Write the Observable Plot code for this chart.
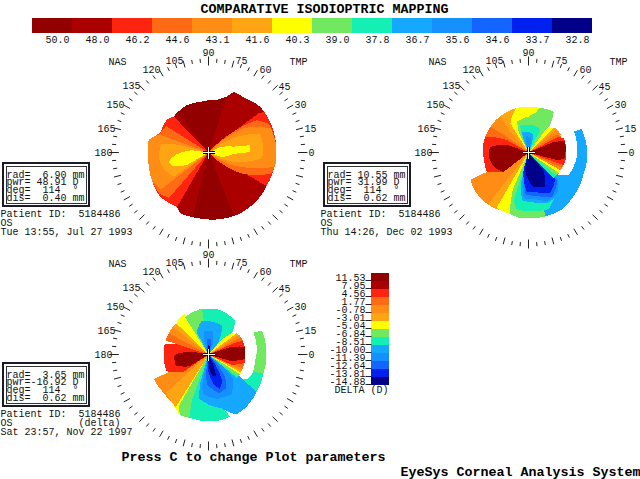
<!DOCTYPE html>
<html><head><meta charset="utf-8">
<script src="https://cdn.jsdelivr.net/npm/d3@7"></script>
<script src="https://cdn.jsdelivr.net/npm/@observablehq/plot@0.6"></script>
<style>html,body{margin:0;padding:0;background:#fff}svg{display:block}svg text{white-space:pre}</style>
</head><body><div id="chart"></div>
<script>
const powerLabels = ["50.0","48.0","46.2","44.6","43.1","41.6","40.3","39.0","37.8","36.7","35.6","34.6","33.7","32.8"];
const deltaLabels = ["11.53","7.95","4.56","1.77","-0.78","-3.01","-5.04","-6.84","-8.51","-10.00","-11.39","-12.64","-13.81","-14.88"];
const palette = ["#920000","#aa0000","#ff2410","#ff6a14","#ff8c14","#ffa514","#ffff00","#70e860","#14f0b4","#14a8ff","#1490ff","#1464ff","#0020f0","#000088"];
const angleLabels = [0,15,30,45,60,75,90,105,120,135,150,165,180];

// Each region: [band index, then degree, radius pairs], painted in order.
const mapA = [
 [1, 67.6,65.6, 72,58.6, 81,53, 99,51.3, 114.6,52, 134.5,50, 142,52.7, 158.5,52, 164,57, 168,61, 190,61, 206,63, 222.5,65.6, 239.8,63, 245,67, 262.8,66.5, 277,67.5, 297.4,68.7, 319.4,68, 338.5,66.3, 350.6,67.6, 364.8,68, 382,68, 401.5,69, 414.6,66],
 [0, 0,0, 72,58, 81,53, 99,51, 114,52, 128,50],
 [0, 0,0, 256,66, 263,66.5, 277,67.5, 292,68],
 [2, 0,0, 134,50, 142,53, 158,52, 164,57, 168,61, 190,61, 206,63, 222,65.6, 240,63],
 [3, 0,0, 148,50, 158,52, 164,57, 168,61, 190,61, 206,63, 220,64, 229,60],
 [4, 0,0, 160,52, 164,57, 168,61, 190,61, 206,63, 218,60],
 [5, 0,0, 165,30, 170,48, 185,50, 200,48, 215,42],
 [6, 0,0, 172,16, 184,33, 193,41, 201,38, 210,25],
 [2, 0,0, 40,30, 38,64, 36,69, 5,68, -30,67, -30,20],
 [3, 0,0, 45,12, 34,58, 25,67, 5,68, -18,67, -33,38, -42,12],
 [4, 0,0, 42,12, 35,42, 21,67, 5,68, -12,68, -24,35, -35,12],
 [5, 0,0, 35,15, 29,32, 20,55, 6,55, -6,54, -20,27, -28,12],
 [6, 0,0, 25,12, 13,26, 10,42, 1,42, -3,25, -20,12]
];
const mapB = [
 [9, 0,0, 258,50, 270,50, 285,66, 300,66, 315,63, 323,38],
 [9, 323,37, 315,63, 339,59, 352,59, 384,58, 384.7,50, 355,48.5, 330,46],
 [4, 0,0, 205,64, 215,66, 231,66, 236,64],
 [5, 0,0, 232,66, 240,65, 246,64],
 [6, 0,0, 240,64, 248,64, 254,64],
 [7, 0,0, 247,40, 253,64, 262,66, 275,66, 285,66, 285,52],
 [8, 0,0, 253,50, 258,58, 275,59, 290,60, 300,52, 312,40],
 [9, 0,0, 256,30, 262,48, 275,50, 290,54, 302,52, 318,42, 322,36],
 [10, 0,0, 258,25, 264,46, 278,47, 292,52, 305,50, 318,40],
 [11, 0,0, 258,20, 266,42, 280,44, 298,50, 316,40],
 [12, 0,0, 254,18, 267,39, 280,40, 298,46, 316,37],
 [13, 0,0, 259,18, 278,35, 296,38, 310,23],
 [4, 0,0, 122,34, 106,46, 123,46, 146,46, 165,46],
 [5, 0,0, 122,34, 106,46, 128,46, 131,30],
 [3, 0,0, 144,30, 146,46, 165,46, 166,30],
 [2, 0,0, 150,25, 160,46, 170,46, 190,45, 205,46, 218,30],
 [0, 0,0, 160,23, 172,39, 186,40, 200,38, 218,32],
 [6, 0,0, 122,34, 106,46, 90,46, 75,46, 58,48, 52,35],
 [7, 0,0, 116,22, 110,33, 90,36, 80,40, 76,46, 58,48, 52,35],
 [8, 0,0, 112,18, 107,28, 85,28, 70,27, 62,25],
 [9, 0,0, 110,15, 108,21, 95,21, 75,19, 70,8],
 [10, 0,0, 105,10, 100,17, 80,15, 75,5],
 [8, 0,0, -46,36, -38,36],
 [7, 0,0, -40,36, -33,37],
 [6, 0,0, -34,37, -28,36],
 [6, 0,0, 44,36, 53,30],
 [5, 0,0, 33,37, 44,36],
 [4, 0,0, 28,37, 40,36],
 [4, 0,0, -29,36, -25,37],
 [3, 0,0, 25,37, 33,33],
 [3, 0,0, -25,37, -20,37],
 [2, 0,0, -20,37, -10,38, 0,38, 22,38, 28,33],
 [0, 0,0, -15,30, -9,37, 0,37, 17,38, 23,27]
];
const mapC = [
 [7, 339,48, 341,58, 362,58, 384,58.5, 386,50, 363,48.4],
 [8, 321,38.5, 322,61, 341,58, 339,48, 329,46.6],
 [6, 0,0, 232,60, 240,64, 245,67],
 [7, 0,0, 240,60, 245,67, 254,66],
 [4, 0,0, 204,60, 220,59, 232,60],
 [5, 0,0, 222,57, 232,60, 238,62],
 [8, 0,0, 250,48, 253,66, 263,66.5, 277,67, 289,66, 285,52],
 [9, 0,0, 254,30, 258,45, 270,50, 283,55, 295,66, 304,65, 322,61, 325,38.5],
 [10, 0,0, 258,30, 262,40, 280,45, 300,46, 315,35, 320,20],
 [11, 0,0, 262,20, 268,30, 285,40, 298,38, 305,30, 312,14],
 [12, 0,0, 268,15, 280,30, 288,36, 297,30, 305,12],
 [13, 0,0, 270,10, 280,22, 290,23, 295,10],
 [2, 0,0, 160,30, 166,45, 185,45, 202,45, 215,30],
 [0, 0,0, 170,15, 178,30, 182,34, 198,35, 212,22],
 [3, 0,0, 152,45, 162,45],
 [4, 0,0, 142,45, 152,45],
 [5, 0,0, 134,45, 142,45],
 [6, 0,0, 120,47, 128,47, 136,45],
 [8, 0,0, 110,28, 103,46, 90,46, 75,46, 52,43, 41,31],
 [7, 0,0, 98,46, 112,45, 122,44],
 [9, 0,0, 118,25, 102,34, 85,33, 65,32, 50,14],
 [10, 0,0, 108,15, 100,24, 80,24, 68,12],
 [11, 0,0, 100,10, 95,16, 82,16, 75,8],
 [13, 0,0, 95,8, 92,10, 85,10, 80,6],
 [8, 0,0, -40,37, -36,37],
 [7, 0,0, -37,37, -31,37],
 [6, 0,0, -32,37, -28,37],
 [5, 0,0, -29,37, -25,37],
 [4, 0,0, -26,37, -20,37],
 [3, 0,0, -22,37, -13,37],
 [6, 0,0, 34,33, 42,33, 48,20],
 [5, 0,0, 30,37, 37,35],
 [4, 0,0, 26,37, 33,36],
 [3, 0,0, 22,37, 28,37],
 [2, 0,0, -24,25, -13,37, 22,37, 24,28],
 [0, 0,0, -16,23, -7,37, 12,37, 19,23]
];

const readoutA = ["rad=  6.90 mm","pwr= 48.91 D","deg=  114  \u00b0","dis=  0.40 mm"];
const readoutB = ["rad= 10.55 mm","pwr= 31.99 D","deg=  114  \u00b0","dis=  0.62 mm"];
const readoutC = ["rad=  3.65 mm","pwr=-16.92 D","deg=  114  \u00b0","dis=  0.62 mm"];
const patientA = ["Patient ID:  5184486","OS","Tue 13:55, Jul 27 1993"];
const patientB = ["Patient ID:  5184486","OS","Thu 14:26, Dec 02 1993"];
const patientC = ["Patient ID:  5184486","OS           (delta)","Sat 23:57, Nov 22 1997"];

// layout
const panels = [
 {map:mapA, cx:208, cy:152, bx:3,   by:163, readout:readoutA, patient:patientA, px:0,   py:213},
 {map:mapB, cx:528, cy:152, bx:324, by:163, readout:readoutB, patient:patientB, px:320, py:213},
 {map:mapC, cx:208, cy:354, bx:3,   by:363, readout:readoutC, patient:patientC, px:0,   py:413}
];
const labelOffset = {0:[103,0],15:[102,-24],30:[92,-48],45:[76,-66],60:[57,-83],75:[33,-92],90:[0,-100],105:[-34,-92],120:[-57,-83],135:[-77,-67],150:[-93,-48],165:[-102,-24],180:[-105,0]};
const rad = d => d*Math.PI/180;

// polar region outlines: consecutive rim vertices are joined along an arc
const regions = [];
panels.forEach((p,pi)=>p.map.forEach((reg,ri)=>{
  const put=(d,r)=>regions.push({id:pi+"-"+ri, band:powerLabels[reg[0]],
    x:p.cx+r*Math.cos(rad(d)), y:p.cy-r*Math.sin(rad(d))});
  for(let i=1;i<reg.length;i+=2){
    const d=reg[i], r=reg[i+1];
    put(d,r);
    if(i+3<reg.length && r>0 && reg[i+3]>0){
      const n=Math.ceil(Math.abs(reg[i+2]-d)/3);
      for(let k=1;k<n;k++) put(d+(reg[i+2]-d)*k/n, r+(reg[i+3]-r)*k/n);
    }
  }
}));
const ticks = [];
panels.forEach(p=>{ for(let a=0;a<360;a+=5){
  const major=a%15===0, axis=a%90===0;
  const r1=axis?87:major?88:90, r2=axis?96:major?95:94;
  ticks.push({x1:p.cx+1.03*r1*Math.cos(rad(a)),y1:p.cy-r1*Math.sin(rad(a)),x2:p.cx+1.03*r2*Math.cos(rad(a)),y2:p.cy-r2*Math.sin(rad(a))});
}});
const labels = panels.flatMap(p=>[
  ...angleLabels.map(a=>({t:String(a),x:p.cx+labelOffset[a][0],y:p.cy+labelOffset[a][1]})),
  {t:"NAS",x:p.cx-91,y:p.cy-91},{t:"TMP",x:p.cx+90,y:p.cy-91}
]);
const readouts = panels.flatMap(p=>p.readout.map((t,i)=>({t,x:p.bx+3,y:p.by+11+i*7.7})));
const patients = panels.flatMap(p=>p.patient.map((t,i)=>({t,x:p.px,y:p.py+i*9,bold:i!==1})));
const boxes = panels.flatMap(p=>[
  {x1:p.bx,y1:p.by,x2:p.bx+86,y2:p.by+43,w:2,s:"#1a1a2a"},
  {x1:p.bx+3,y1:p.by+3,x2:p.bx+83,y2:p.by+40,w:1,s:"#333"}
]);
const cross = panels.flatMap(p=>[
  {x1:p.cx-6,y1:p.cy,x2:p.cx+6,y2:p.cy},{x1:p.cx,y1:p.cy-6,x2:p.cx,y2:p.cy+6}
]);
const topBar = powerLabels.map((l,i)=>({l,x1:32+40*i,x2:72+40*i}));
const sideBar = powerLabels.map((l,i)=>({l,t:deltaLabels[i],y1:273+8*i,y2:281+8*i}));
const mono = "Liberation Mono";

const chart = Plot.plot({
  width:640, height:479, margin:0,
  x:{domain:[0,640],range:[0,640],axis:null},
  y:{domain:[0,479],range:[0,479],axis:null},
  color:{type:"ordinal",domain:powerLabels,range:palette},
  style:{background:"#fff"},
  marks:[
    Plot.line(regions,{x:"x",y:"y",z:"id",fill:"band",stroke:"none",curve:"linear-closed",shapeRendering:"crispEdges"}),
    Plot.link(ticks,{x1:"x1",y1:"y1",x2:"x2",y2:"y2",stroke:"#222",strokeWidth:1}),
    Plot.link(cross,{x1:"x1",y1:"y1",x2:"x2",y2:"y2",stroke:"#000",strokeWidth:3,shapeRendering:"crispEdges"}),
    Plot.link(cross,{x1:"x1",y1:"y1",x2:"x2",y2:"y2",stroke:"#fff",strokeWidth:1,shapeRendering:"crispEdges"}),
    Plot.rect(topBar,{x1:"x1",x2:"x2",y1:()=>18,y2:()=>33,fill:"l"}),
    Plot.text(topBar,{x:d=>d.x1+25,y:()=>39,text:"l",fontFamily:mono,fontSize:10,fill:"#111",lineAnchor:"middle"}),
    Plot.rect(sideBar,{x1:()=>371,x2:()=>389,y1:"y1",y2:"y2",fill:"l"}),
    Plot.text(sideBar,{x:()=>365,y:d=>d.y1+4,text:"t",fontFamily:mono,fontSize:10,fill:"#111",textAnchor:"end",lineAnchor:"middle"}),
    Plot.link(sideBar,{x1:()=>365,x2:()=>371,y1:d=>d.y1+7,y2:d=>d.y1+7,stroke:"#223",strokeWidth:1}),
    Plot.text(["DELTA (D)"],{x:()=>334,y:()=>389,text:d=>d,fontFamily:mono,fontSize:10,fill:"#111",textAnchor:"start",lineAnchor:"middle"}),
    Plot.text(labels,{x:"x",y:"y",text:"t",fontFamily:mono,fontSize:10,fill:"#111",lineAnchor:"middle"}),
    Plot.rect(boxes,{x1:"x1",y1:"y1",x2:"x2",y2:"y2",stroke:"s",strokeWidth:"w",fill:"none",shapeRendering:"crispEdges"}),
    Plot.text(readouts,{x:"x",y:"y",text:"t",fontFamily:mono,fontSize:10,fill:"#111",textAnchor:"start",lineAnchor:"middle"}),
    Plot.text(patients,{x:"x",y:"y",text:"t",fontFamily:mono,fontSize:10,fill:"#111",fontWeight:d=>d.bold?"bold":"normal",textAnchor:"start",lineAnchor:"middle"}),
    Plot.text(["COMPARATIVE ISODIOPTRIC MAPPING"],{x:()=>324,y:()=>8,text:d=>d,fontFamily:mono,fontSize:13.33,fontWeight:"bold",fill:"#000",lineAnchor:"middle"}),
    Plot.text(["Press C to change Plot parameters"],{x:()=>253,y:()=>456,text:d=>d,fontFamily:mono,fontSize:13.33,fontWeight:"bold",fill:"#000",lineAnchor:"middle"}),
    Plot.text(["EyeSys Corneal Analysis System"],{x:()=>520,y:()=>471,text:d=>d,fontFamily:mono,fontSize:13.33,fontWeight:"bold",fill:"#000",lineAnchor:"middle"})
  ]
});
document.getElementById("chart").append(chart);
</script>
</body></html>
